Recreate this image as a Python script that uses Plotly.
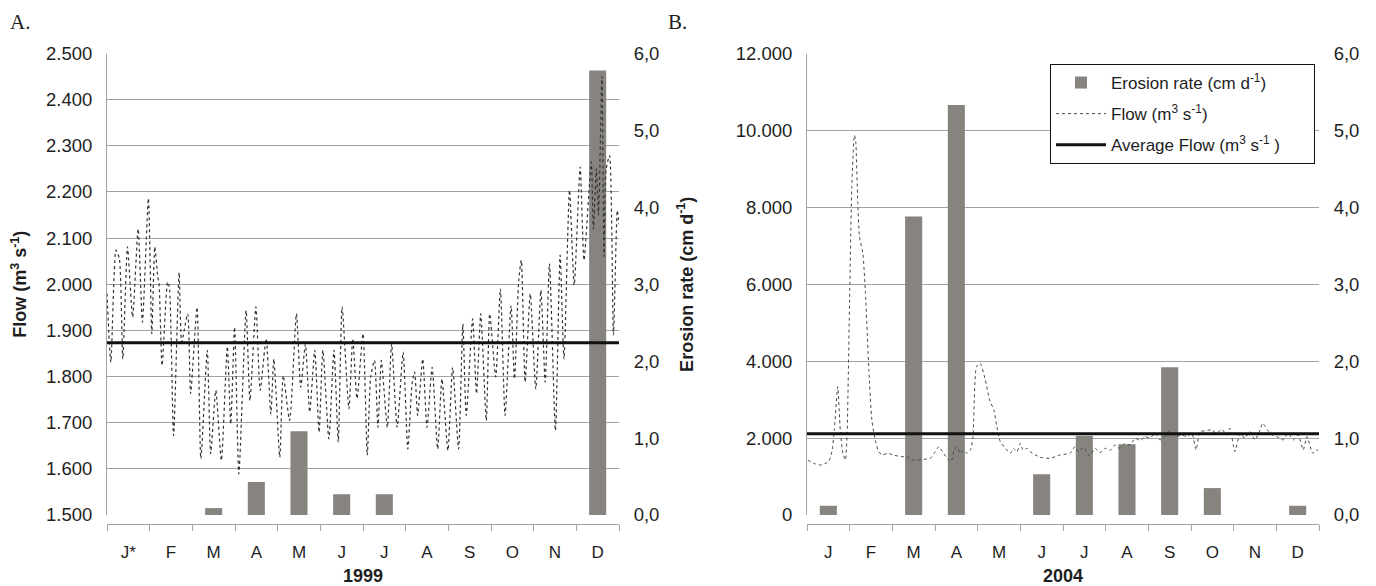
import plotly.graph_objects as go

# ---------------- data ----------------
months1999 = ["J*", "F", "M", "A", "M", "J", "J", "A", "S", "O", "N", "D"]
months2004 = ["J", "F", "M", "A", "M", "J", "J", "A", "S", "O", "N", "D"]

erosion1999 = [0, 0, 0.09, 0.43, 1.09, 0.27, 0.27, 0, 0, 0, 0, 5.78]
erosion2004 = [0.12, 0, 3.88, 5.33, 0, 0.53, 1.03, 0.92, 1.92, 0.35, 0, 0.12]

avg_flow1999 = 1873
avg_flow2004 = 2110

# time in months since 1 January
flow1999_t = [0.0, 0.09, 0.21, 0.29, 0.37, 0.48, 0.60, 0.73, 0.83, 0.97,
              1.05, 1.12, 1.19, 1.22, 1.29, 1.42, 1.46, 1.56, 1.69, 1.75,
              1.89, 1.96, 2.11, 2.20, 2.35, 2.43, 2.55, 2.68, 2.82, 2.90,
              2.99, 3.09, 3.26, 3.35, 3.49, 3.59, 3.73, 3.84, 3.91, 4.05,
              4.13, 4.28, 4.44, 4.54, 4.65, 4.75, 4.87, 4.97, 5.06, 5.20,
              5.32, 5.42, 5.51, 5.67, 5.76, 5.86, 6.00, 6.10,
              6.18, 6.27, 6.35, 6.43, 6.57, 6.67, 6.80, 6.94, 7.05, 7.15,
              7.21, 7.28, 7.40, 7.50, 7.62, 7.75, 7.85, 7.99, 8.10, 8.24,
              8.34, 8.42, 8.57, 8.66, 8.76, 8.89, 8.97, 9.11, 9.22, 9.33,
              9.47, 9.55, 9.65, 9.71, 9.80, 9.92, 10.05, 10.17, 10.27, 10.37,
              10.51, 10.62, 10.71, 10.84, 10.95, 11.09, 11.18, 11.35, 11.40,
              11.47, 11.52, 11.60, 11.65, 11.70, 11.78, 11.87, 11.96, 12.0]
flow1999_v = [1980, 1831, 2074, 2055, 1838, 2081, 1929, 2120, 1918, 2186,
              1893, 2081, 2016, 2001, 1824, 2005, 1995, 1672, 2026, 1875,
              1936, 1763, 1950, 1622, 1857, 1633, 1770, 1618, 1865, 1697,
              1907, 1589, 1943, 1748, 1951, 1770, 1882, 1719, 1838, 1625,
              1802, 1705, 1936, 1777, 1870, 1723, 1857, 1679, 1857, 1665,
              1857, 1658, 1951, 1730, 1882, 1752, 1893, 1629,
              1799, 1835, 1690, 1835, 1690, 1871, 1690, 1853, 1643, 1784,
              1810, 1716, 1838, 1690, 1820, 1643, 1795, 1640, 1820, 1643,
              1914, 1716, 1925, 1763, 1936, 1705, 1936, 1799, 1990, 1716,
              1954, 1795, 2008, 2052, 1788, 1979, 1773, 1987, 1788, 2045,
              1683, 2063, 1838, 2204, 1998, 2254, 2052, 2265, 2120,
              2250, 2150, 2450, 2060, 2250, 2279, 1890, 2160, 2130]

flow2004_t = [0.02, 0.16, 0.31, 0.51, 0.59, 0.64, 0.72, 0.78, 0.84, 0.90,
              0.94, 0.99, 1.05, 1.11, 1.14, 1.19, 1.23, 1.31, 1.37, 1.45,
              1.52, 1.60, 1.68, 1.76, 1.88, 2.03, 2.19, 2.34, 2.46, 2.58,
              2.73, 2.89, 2.98, 3.09, 3.20, 3.32, 3.38, 3.45, 3.52, 3.59,
              3.67, 3.75, 3.83, 3.89, 3.97, 4.06, 4.18, 4.28, 4.38, 4.45,
              4.53, 4.65, 4.77, 4.84, 4.92, 5.00, 5.06, 5.16,
              5.23, 5.46, 5.70, 5.93, 6.17, 6.28, 6.36, 6.48, 6.62, 6.75,
              6.87, 6.99, 7.10, 7.22, 7.32, 7.45, 7.57, 7.69, 7.81, 7.92,
              8.04, 8.16, 8.27, 8.39, 8.47, 8.66, 8.78, 8.90, 9.02, 9.12,
              9.21, 9.33, 9.48, 9.60, 9.72, 9.84, 9.91, 10.03, 10.15, 10.26,
              10.38, 10.50, 10.62, 10.68, 10.79, 10.89, 11.01, 11.16, 11.28, 11.40,
              11.51, 11.63, 11.72, 11.85, 11.94, 11.98]
flow2004_v = [1430, 1343, 1300, 1386, 1690, 2209, 3336, 2209, 1603, 1430,
              2123, 5068, 8534, 9877, 9747, 8101, 7234, 6801, 5762, 3769,
              2469, 1949, 1646, 1560, 1603, 1560, 1516, 1516, 1430, 1430,
              1447, 1473, 1603, 1776, 1603, 1430, 1386, 1690, 1776, 1603,
              1690, 1603, 1690, 2036, 3855, 3942, 3509, 2989, 2729, 2296,
              1906, 1733, 1603, 1733, 1646, 1863, 1690, 1733,
              1650, 1501, 1475, 1562, 1606, 1779, 1649, 1762, 1536, 1736,
              1623, 1736, 1675, 1822, 1736, 1866, 1822, 1996, 1935, 2039,
              1996, 2126, 1952, 2039, 2169, 2039, 2082, 2039, 2126, 1692,
              2169, 2187, 2213, 2126, 2230, 2082, 2256, 1649, 2126, 1996,
              2169, 1952, 2213, 2386, 2213, 2082, 2039, 1952, 2126, 1952,
              2082, 1692, 2039, 1606, 1692, 1675]

assert len(flow1999_t) == len(flow1999_v)
assert len(flow2004_t) == len(flow2004_v)

# ---------------- style ----------------
W, H = 1376, 586
FONT = "Liberation Sans, Arial, sans-serif"
SERIF = "Liberation Serif, Times New Roman, serif"
BAR_COLOR = "#878480"
GRID = "#a3a3a3"
TXT = "#1e1e1e"
CLEAR = "rgba(0,0,0,0)"

n_months = len(months1999)
centers = [i + 0.5 for i in range(n_months)]


def px_x(p):
    return p / W


def px_y(p):
    return 1 - p / H


plot_top, plot_bot, cat_axis_y = 53.5, 515, 524
ydom = [px_y(plot_bot), px_y(plot_top)]
cat_dom = [px_y(cat_axis_y), px_y(plot_top)]
left_dom = [px_x(107), px_x(619)]
right_dom = [px_x(807), px_x(1319)]

fig = go.Figure()

# ---- Panel A (1999) ----
fig.add_trace(go.Bar(x=centers, y=erosion1999, width=0.4, marker=dict(color=BAR_COLOR, line=dict(width=0)),
                     xaxis="x", yaxis="y", showlegend=False, name="Erosion rate"))
fig.add_trace(go.Scatter(x=flow1999_t, y=flow1999_v, mode="lines",
                         line=dict(color="#333333", width=1.2, dash="dot", shape="spline", smoothing=0.6),
                         xaxis="x", yaxis="y2", showlegend=False, name="Flow"))
fig.add_trace(go.Scatter(x=[0, n_months], y=[avg_flow1999, avg_flow1999], mode="lines",
                         line=dict(color="#111111", width=3),
                         xaxis="x", yaxis="y2", showlegend=False, name="Average Flow"))
# month axis carrier (no marks)
fig.add_trace(go.Scatter(x=[None], y=[None], mode="markers", xaxis="x2", yaxis="y3",
                         showlegend=False, hoverinfo="skip"))

# ---- Panel B (2004) ----
fig.add_trace(go.Bar(x=centers, y=erosion2004, width=0.4, marker=dict(color=BAR_COLOR, line=dict(width=0)),
                     xaxis="x3", yaxis="y4", showlegend=True, legendgroup="g1",
                     name="Erosion rate (cm d<sup>-1</sup>)"))
fig.add_trace(go.Scatter(x=flow2004_t, y=flow2004_v, mode="lines",
                         line=dict(color="#4a4a4a", width=1, dash="dot", shape="spline", smoothing=0.5),
                         xaxis="x3", yaxis="y5", showlegend=True, legendgroup="g2",
                         name="Flow (m<sup>3</sup> s<sup>-1</sup>)"))
fig.add_trace(go.Scatter(x=[0, n_months], y=[avg_flow2004, avg_flow2004], mode="lines",
                         line=dict(color="#111111", width=3),
                         xaxis="x3", yaxis="y5", showlegend=True, legendgroup="g3",
                         name="Average Flow (m<sup>3</sup> s<sup>-1</sup> )&nbsp;&nbsp;&nbsp;&nbsp;&nbsp;&nbsp;"))
fig.add_trace(go.Scatter(x=[None], y=[None], mode="markers", xaxis="x4", yaxis="y6",
                         showlegend=False, hoverinfo="skip"))

tickfont = dict(family=FONT, size=18.5, color=TXT)
titlefont = dict(family=FONT, size=18, color=TXT, weight="bold")


def data_x(dom, anchor):
    return dict(domain=dom, anchor=anchor, range=[0, n_months], visible=False, showgrid=False,
                zeroline=False, fixedrange=True)


def cat_x(dom, anchor, labels, title):
    return dict(domain=dom, anchor=anchor, range=[0, n_months], tickmode="array", tickvals=centers,
                ticktext=labels, ticks="outside", ticklen=13, tickcolor=CLEAR,
                tickfont=dict(family=FONT, size=17, color=TXT),
                minor=dict(tickmode="linear", tick0=0, dtick=1, ticks="outside", ticklen=6, tickcolor=GRID,
                           tickwidth=1, showgrid=False),
                showline=True, linecolor=GRID, linewidth=1, showgrid=False, zeroline=False,
                fixedrange=True, title=dict(text=title, font=titlefont, standoff=8))


def erosion_y(anchor, title):
    return dict(domain=ydom, anchor=anchor, side="right", range=[0, 6], tick0=0, dtick=1, tickformat=".1f",
                showgrid=False, zeroline=False, showline=False, ticks="outside", ticklen=10, tickcolor=CLEAR,
                tickfont=tickfont, fixedrange=True, title=dict(text=title, font=titlefont, standoff=21))


def flow_y(over, anchor, rng, dt, title):
    return dict(overlaying=over, anchor=anchor, side="left", range=rng, tick0=rng[0], dtick=dt, tickformat=",d",
                showgrid=True, gridcolor=GRID, gridwidth=1, zeroline=False, showline=True, linecolor=GRID,
                ticks="outside", ticklen=10, tickcolor=CLEAR, tickfont=tickfont, fixedrange=True,
                title=dict(text=title, font=titlefont, standoff=14))


def hidden_y(anchor):
    return dict(domain=cat_dom, anchor=anchor, range=[0, 1], visible=False, showgrid=False,
                zeroline=False, fixedrange=True)


fig.update_layout(
    width=W, height=H, autosize=False,
    margin=dict(l=0, r=0, t=0, b=0, autoexpand=False),
    paper_bgcolor="white", plot_bgcolor="rgba(0,0,0,0)",
    separators=",.",
    font=dict(family=FONT, color=TXT),
    barmode="overlay",
    hovermode=False,
    xaxis=data_x(left_dom, "y"),
    yaxis=erosion_y("x", "Erosion rate (cm d<sup>-1</sup>)"),
    yaxis2=flow_y("y", "x", [1500, 2500], 100, "Flow (m<sup>3</sup> s<sup>-1</sup>)"),
    xaxis2=cat_x(left_dom, "y3", months1999, "1999"),
    yaxis3=hidden_y("x2"),
    xaxis3=data_x(right_dom, "y4"),
    yaxis4=erosion_y("x3", ""),
    yaxis5=flow_y("y4", "x3", [0, 12000], 2000, ""),
    xaxis4=cat_x(right_dom, "y6", months2004, "2004"),
    yaxis6=hidden_y("x4"),
    legend=dict(x=px_x(1050), y=px_y(64), xanchor="left", yanchor="top",
                bgcolor="white", bordercolor="#111111", borderwidth=1,
                font=dict(family=FONT, size=17, color=TXT), traceorder="grouped",
                itemwidth=50, tracegroupgap=6),
    annotations=[
        dict(text="A.", x=px_x(8), y=px_y(22), xref="paper", yref="paper", xanchor="left", yanchor="middle",
             showarrow=False, font=dict(family=SERIF, size=21, color=TXT)),
        dict(text="B.", x=px_x(666), y=px_y(22), xref="paper", yref="paper", xanchor="left", yanchor="middle",
             showarrow=False, font=dict(family=SERIF, size=21, color=TXT)),
    ],
)

# remove the page's default body margin so the 1376x586 figure fills the window exactly
fig.write_html("out.html",
               config={"displayModeBar": False, "staticPlot": True},
               post_script="document.body.style.margin='0px';document.body.style.overflow='hidden';")
